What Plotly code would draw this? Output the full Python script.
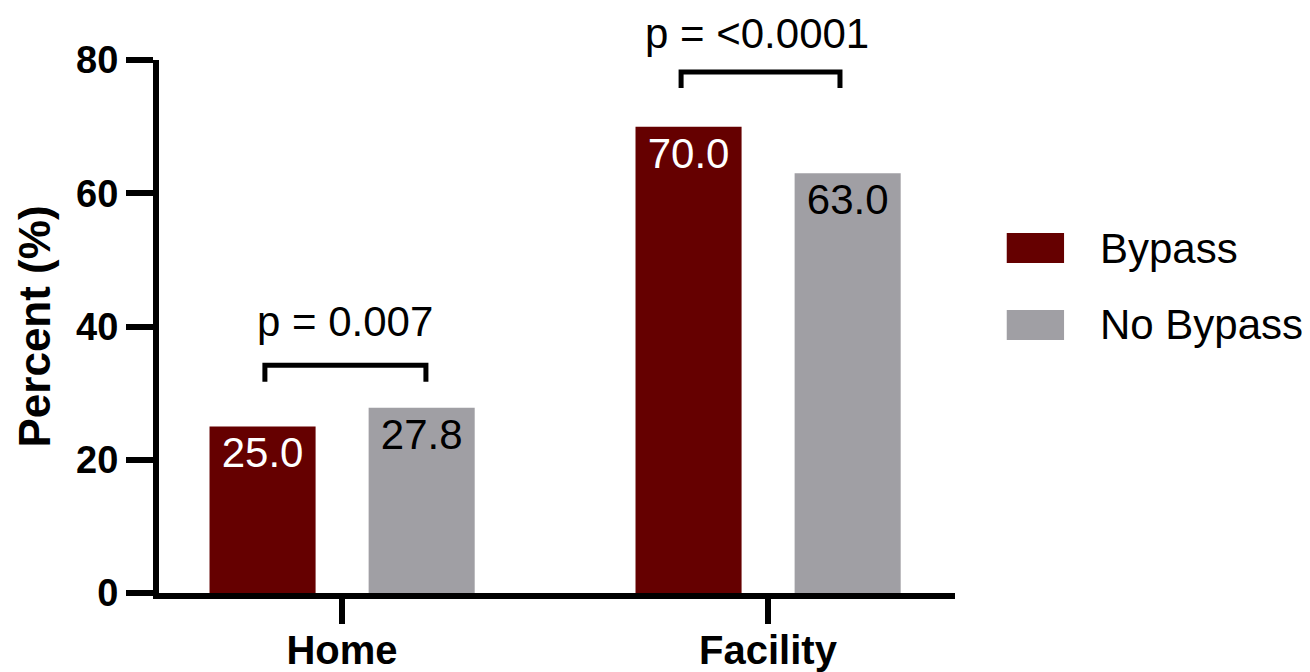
import plotly.graph_objects as go

categories = ["Home", "Facility"]
bypass = [25.0, 70.0]
no_bypass = [27.8, 63.0]
series_names = ["Bypass", "No Bypass"]
p_values = ["p = 0.007", "p = <0.0001"]
y_ticks = [0, 20, 40, 60, 80]

FONT = "Liberation Sans, Arial, sans-serif"
C_BYP = "#650000"
C_NOB = "#a09fa4"
Y_MAX = 80

xi = list(range(len(categories)))
fig = go.Figure()
fig.add_trace(go.Bar(
    x=xi, y=bypass, name=series_names[0], marker_color=C_BYP, marker_line_width=0,
    width=0.249, offset=-0.311,
    texttemplate="%{y:.1f}", textposition="inside", insidetextanchor="end", textangle=0,
    insidetextfont=dict(family=FONT, size=42, color="white"), showlegend=False,
))
fig.add_trace(go.Bar(
    x=xi, y=no_bypass, name=series_names[1], marker_color=C_NOB, marker_line_width=0,
    width=0.249, offset=0.0625,
    texttemplate="%{y:.1f}", textposition="inside", insidetextanchor="end", textangle=0,
    insidetextfont=dict(family=FONT, size=42, color="black"), showlegend=False,
))

# significance brackets: (left offset, right offset, top y, bottom y, label y)
brackets = [(-0.181, 0.197, 34.2, 31.7, 40.7), (-0.204, 0.169, 78.2, 75.8, 84.05)]
label_dx = [0.007, -0.026]
for i, (l, r, top, bot, ly) in enumerate(brackets):
    x0, x1 = xi[i] + l, xi[i] + r
    fig.add_shape(type="path", xref="x", yref="y",
                  path=f"M {x0},{bot} L {x0},{top} L {x1},{top} L {x1},{bot}",
                  line=dict(color="black", width=5))
    fig.add_annotation(x=xi[i] + label_dx[i], y=ly / Y_MAX, xref="x", yref="paper", text=p_values[i],
                       showarrow=False, font=dict(family=FONT, size=42, color="black"),
                       yanchor="middle", xanchor="center")

# legend drawn manually (large swatches)
leg = [(series_names[0], C_BYP, 0.6754, 0.619), (series_names[1], C_NOB, 0.531, 0.4747)]
for name, col, y1, y0 in leg:
    fig.add_shape(type="rect", xref="paper", yref="paper", x0=1.065, x1=1.137, y0=y0, y1=y1,
                  fillcolor=col, line=dict(width=0))
    fig.add_annotation(x=1.180, y=(y0 + y1) / 2, xref="paper", yref="paper", text=name,
                       showarrow=False, xanchor="left", yanchor="middle",
                       font=dict(family=FONT, size=42, color="black"))

fig.update_layout(
    width=1302, height=664,
    margin=dict(l=151, r=355, t=52, b=79),
    paper_bgcolor="white", plot_bgcolor="white",
    barmode="group",
    font=dict(family=FONT, color="black"),
)
fig.update_xaxes(
    range=[-0.4296, 1.439], tickvals=xi, ticktext=[f"<b>{c}</b>" for c in categories],
    showline=True, linecolor="black", linewidth=6,
    ticks="outside", ticklen=25, tickwidth=6, tickcolor="black",
    tickfont=dict(family=FONT, size=40, color="black"), ticklabelstandoff=-8,
    showgrid=False, zeroline=False, automargin=False,
)
fig.update_yaxes(
    range=[0, Y_MAX], tickvals=y_ticks, ticktext=[f"<b>{t}</b>" for t in y_ticks],
    showline=True, linecolor="black", linewidth=6,
    ticks="outside", ticklen=27, tickwidth=6, tickcolor="black",
    tickfont=dict(family=FONT, size=38, color="black"),
    title=dict(text="<b>Percent (%)</b>", font=dict(family=FONT, size=44, color="black"), standoff=14),
    showgrid=False, zeroline=False, automargin=False,
)

fig.write_html("out.html")
